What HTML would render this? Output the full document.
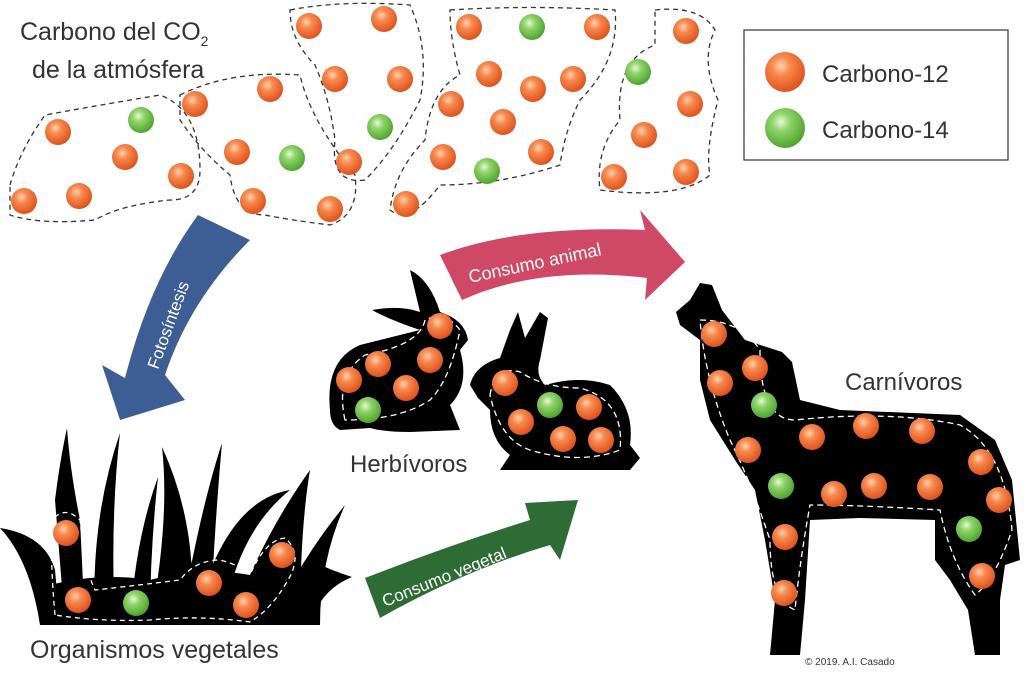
<!DOCTYPE html>
<html><head><meta charset="utf-8"><style>
body{margin:0;background:#fff}
svg text{font-family:"Liberation Sans",sans-serif}
</style></head><body>
<svg width="1024" height="669" viewBox="0 0 1024 669" xmlns="http://www.w3.org/2000/svg">
<defs>
<radialGradient id="o" cx="0.4" cy="0.35" r="0.65"><stop offset="0" stop-color="#ffd2b0"/><stop offset="0.35" stop-color="#f78a4f"/><stop offset="1" stop-color="#e0521c"/></radialGradient>
<radialGradient id="g" cx="0.4" cy="0.35" r="0.65"><stop offset="0" stop-color="#e8f8d8"/><stop offset="0.35" stop-color="#8fd46a"/><stop offset="1" stop-color="#4fa52e"/></radialGradient>
</defs>
<g fill="none" stroke="#333" stroke-width="1.3" stroke-dasharray="5,4">
<path d="M10,185 Q20,150 45,115 Q100,105 160,95 Q200,110 200,170 Q200,200 170,200 Q120,205 95,220 Q40,225 10,215 Z"/>
<path d="M180,95 Q230,70 300,75 Q310,120 355,175 Q360,215 330,225 Q290,220 265,215 Q235,215 230,175 Q200,150 180,120 Z"/>
<path d="M290,10 Q340,0 410,5 Q430,50 420,100 Q395,150 365,180 Q330,185 335,140 Q330,100 315,65 Q290,40 290,10 Z"/>
<path d="M450,10 Q530,5 615,10 Q620,60 580,100 Q565,130 560,165 Q500,185 440,185 Q410,225 390,210 Q395,170 425,140 Q430,90 460,75 Q450,40 450,10 Z"/>
<path d="M655,10 Q700,5 715,30 Q700,60 718,100 Q705,150 710,175 Q680,200 600,190 Q595,150 620,120 Q615,60 655,45 Z"/>
</g>
<rect x="744" y="30" width="264" height="130" fill="#fff" stroke="#333" stroke-width="1.2"/>
<text x="822" y="82" font-size="24" fill="#333">Carbono-12</text>
<text x="822" y="138" font-size="24" fill="#333">Carbono-14</text>
<text x="20" y="40" font-size="25" fill="#333">Carbono del CO<tspan font-size="14" dy="6">2</tspan></text>
<text x="32" y="78" font-size="25" fill="#333">de la atmósfera</text>
<!-- arrows -->
<path d="M198,215 L250,240 Q190,300 165,375 L185,400 L120,420 L102,365 L125,378 Q150,280 198,215 Z" fill="#3d5e95"/>
<text transform="translate(158,370) rotate(-70)" font-size="17" fill="#fff">Fotosíntesis</text>
<path d="M440,255 Q520,225 645,230 L640,210 L685,262 L645,300 L647,278 Q540,265 462,300 Z" fill="#cf4866"/>
<text transform="translate(470,283) rotate(-12)" font-size="18" fill="#fff">Consumo   animal</text>
<path d="M365,578 Q450,545 530,520 L525,503 L578,500 L560,560 L550,545 Q465,570 380,618 Z" fill="#2e6c35"/>
<text transform="translate(385,607) rotate(-22)" font-size="17" fill="#fff">Consumo vegetal</text>
<!-- grass -->
<g fill="#000">
<path d="M50,625 L50,585 Q100,572 150,580 Q200,566 250,575 Q290,565 312,578 L305,625 Z"/>
<path d="M305,625 L310,560 Q330,570 352,577 Q320,590 310,625 Z"/>
<path d="M0,528 Q45,535 55,570 L60,625 L40,625 Q30,560 0,528 Z"/>
<path d="M65,625 L55,500 Q60,460 67,428 Q70,470 80,520 L85,625 Z"/>
<path d="M95,625 Q90,520 120,433 Q110,520 115,625 Z"/>
<path d="M130,625 Q135,540 158,477 Q150,550 150,625 Z"/>
<path d="M150,625 Q170,520 162,447 Q200,530 190,625 Z"/>
<path d="M180,625 Q200,510 222,443 Q215,520 210,625 Z"/>
<path d="M200,600 Q230,500 290,490 Q240,530 225,610 Z"/>
<path d="M230,625 Q260,540 310,470 Q300,530 300,625 Z"/>
<path d="M270,625 Q300,560 345,505 Q320,560 320,625 Z"/>
<path d="M160,625 Q170,540 165,455 Q190,530 200,625 Z"/>
</g>
<g fill="none" stroke="#fff" stroke-width="1.3" stroke-dasharray="5,4">
<path d="M55,615 Q50,560 52,520 Q65,505 80,520 Q85,570 95,590 Q140,585 180,580 Q195,560 220,560 Q240,565 250,575 Q265,540 285,538 Q305,555 285,585 Q270,610 250,622 Q200,615 150,620 Q100,622 55,615 Z"/>
</g>
<!-- rabbit 1 -->
<path fill="#000" d="M330,410 Q325,360 360,345 Q400,335 420,330 Q390,320 372,310 Q400,305 420,312 L410,270 Q430,280 440,312 Q465,320 468,340 L460,350 Q470,385 450,405 L460,430 L410,432 Q385,432 370,428 L340,430 Q330,425 330,410 Z"/>
<!-- rabbit 2 -->
<path fill="#000" d="M470,385 Q475,365 500,358 L510,330 L518,312 L525,338 L540,312 L548,318 L540,360 Q535,375 545,385 Q580,375 610,385 Q635,410 630,445 L640,458 L630,470 L500,470 L510,455 Q490,440 490,410 L478,398 Z"/>
<!-- wolf -->
<path fill="#000" d="M676,312 L690,300 L700,283 L712,285 L722,310 L745,340 L782,352 L792,362 L800,400 L840,410 L960,415 L995,440 L1012,480 L1018,540 L1020,560 L1005,565 L1000,600 L1000,655 L975,655 L968,610 L950,580 L935,560 L935,520 L860,518 L810,520 L805,600 L800,655 L770,655 L775,600 L765,540 L755,490 L735,460 L710,420 L700,380 L700,340 L680,325 Z"/>
<g fill="none" stroke="#fff" stroke-width="1.3" stroke-dasharray="6,4">
<path d="M345,420 Q335,375 365,355 Q420,345 425,320 Q445,310 460,330 Q450,380 430,400 Q400,420 345,420 Z"/>
<path d="M490,395 Q495,365 520,372 Q545,388 580,388 Q625,400 620,450 Q580,465 530,450 Q500,440 490,395 Z"/>
<path d="M700,320 Q740,320 760,350 Q760,420 795,420 Q890,410 960,425 Q1005,450 1012,530 Q995,580 975,595 Q950,560 940,510 Q860,505 810,505 Q800,560 795,610 Q770,600 770,540 Q750,480 730,440 Q705,380 700,320 Z"/>
</g>
<text x="350" y="472" font-size="24" fill="#333">Herbívoros</text>
<text x="845" y="390" font-size="24" fill="#333">Carnívoros</text>
<text x="30" y="658" font-size="25" fill="#333">Organismos vegetales</text>
<text x="805" y="665" font-size="10" fill="#333">© 2019. A.I. Casado</text>
<g>
<circle cx="58" cy="132" r="13" fill="url(#o)"/><circle cx="141" cy="120" r="13" fill="url(#g)"/><circle cx="125" cy="157" r="13" fill="url(#o)"/><circle cx="181" cy="176" r="13" fill="url(#o)"/><circle cx="24" cy="201" r="13" fill="url(#o)"/><circle cx="79" cy="196" r="13" fill="url(#o)"/>
<circle cx="195" cy="104" r="13" fill="url(#o)"/><circle cx="270" cy="89" r="13" fill="url(#o)"/><circle cx="237" cy="152" r="13" fill="url(#o)"/><circle cx="292" cy="158" r="13" fill="url(#g)"/><circle cx="253" cy="201" r="13" fill="url(#o)"/><circle cx="330" cy="209" r="13" fill="url(#o)"/>
<circle cx="309" cy="26" r="13" fill="url(#o)"/><circle cx="384" cy="19" r="13" fill="url(#o)"/><circle cx="335" cy="79" r="13" fill="url(#o)"/><circle cx="400" cy="79" r="13" fill="url(#o)"/><circle cx="380" cy="127" r="13" fill="url(#g)"/><circle cx="349" cy="162" r="13" fill="url(#o)"/>
<circle cx="469" cy="27" r="13" fill="url(#o)"/><circle cx="532" cy="27" r="13" fill="url(#g)"/><circle cx="597" cy="27" r="13" fill="url(#o)"/><circle cx="489" cy="74" r="13" fill="url(#o)"/><circle cx="533" cy="89" r="13" fill="url(#o)"/><circle cx="573" cy="79" r="13" fill="url(#o)"/><circle cx="451" cy="104" r="13" fill="url(#o)"/><circle cx="503" cy="122" r="13" fill="url(#o)"/><circle cx="443" cy="157" r="13" fill="url(#o)"/><circle cx="487" cy="171" r="13" fill="url(#g)"/><circle cx="541" cy="152" r="13" fill="url(#o)"/><circle cx="406" cy="204" r="13" fill="url(#o)"/>
<circle cx="686" cy="31" r="13" fill="url(#o)"/><circle cx="638" cy="72" r="13" fill="url(#g)"/><circle cx="690" cy="104" r="13" fill="url(#o)"/><circle cx="644" cy="135" r="13" fill="url(#o)"/><circle cx="614" cy="177" r="13" fill="url(#o)"/><circle cx="686" cy="172" r="13" fill="url(#o)"/>
<circle cx="785" cy="72" r="20" fill="url(#o)"/><circle cx="785" cy="128" r="20" fill="url(#g)"/>
<circle cx="440" cy="326" r="13" fill="url(#o)"/><circle cx="378" cy="364" r="13" fill="url(#o)"/><circle cx="430" cy="360" r="13" fill="url(#o)"/><circle cx="349" cy="380" r="13" fill="url(#o)"/><circle cx="406" cy="388" r="13" fill="url(#o)"/><circle cx="368" cy="410" r="13" fill="url(#g)"/>
<circle cx="505" cy="383" r="13" fill="url(#o)"/><circle cx="550" cy="405" r="13" fill="url(#g)"/><circle cx="589" cy="407" r="13" fill="url(#o)"/><circle cx="521" cy="422" r="13" fill="url(#o)"/><circle cx="563" cy="439" r="13" fill="url(#o)"/><circle cx="601" cy="440" r="13" fill="url(#o)"/>
<circle cx="714" cy="334" r="13" fill="url(#o)"/><circle cx="755" cy="368" r="13" fill="url(#o)"/><circle cx="720" cy="383" r="13" fill="url(#o)"/><circle cx="764" cy="405" r="13" fill="url(#g)"/><circle cx="748" cy="450" r="13" fill="url(#o)"/><circle cx="812" cy="437" r="13" fill="url(#o)"/><circle cx="866" cy="426" r="13" fill="url(#o)"/><circle cx="922" cy="431" r="13" fill="url(#o)"/><circle cx="781" cy="486" r="13" fill="url(#g)"/><circle cx="834" cy="494" r="13" fill="url(#o)"/><circle cx="874" cy="486" r="13" fill="url(#o)"/><circle cx="930" cy="487" r="13" fill="url(#o)"/><circle cx="981" cy="462" r="13" fill="url(#o)"/><circle cx="999" cy="500" r="13" fill="url(#o)"/><circle cx="969" cy="529" r="13" fill="url(#g)"/><circle cx="785" cy="537" r="13" fill="url(#o)"/><circle cx="982" cy="576" r="13" fill="url(#o)"/><circle cx="784" cy="593" r="13" fill="url(#o)"/>
<circle cx="66" cy="533" r="13" fill="url(#o)"/><circle cx="282" cy="555" r="13" fill="url(#o)"/><circle cx="78" cy="600" r="13" fill="url(#o)"/><circle cx="136" cy="603" r="13" fill="url(#g)"/><circle cx="209" cy="583" r="13" fill="url(#o)"/><circle cx="246" cy="605" r="13" fill="url(#o)"/>
</g>
</svg>
</body></html>
